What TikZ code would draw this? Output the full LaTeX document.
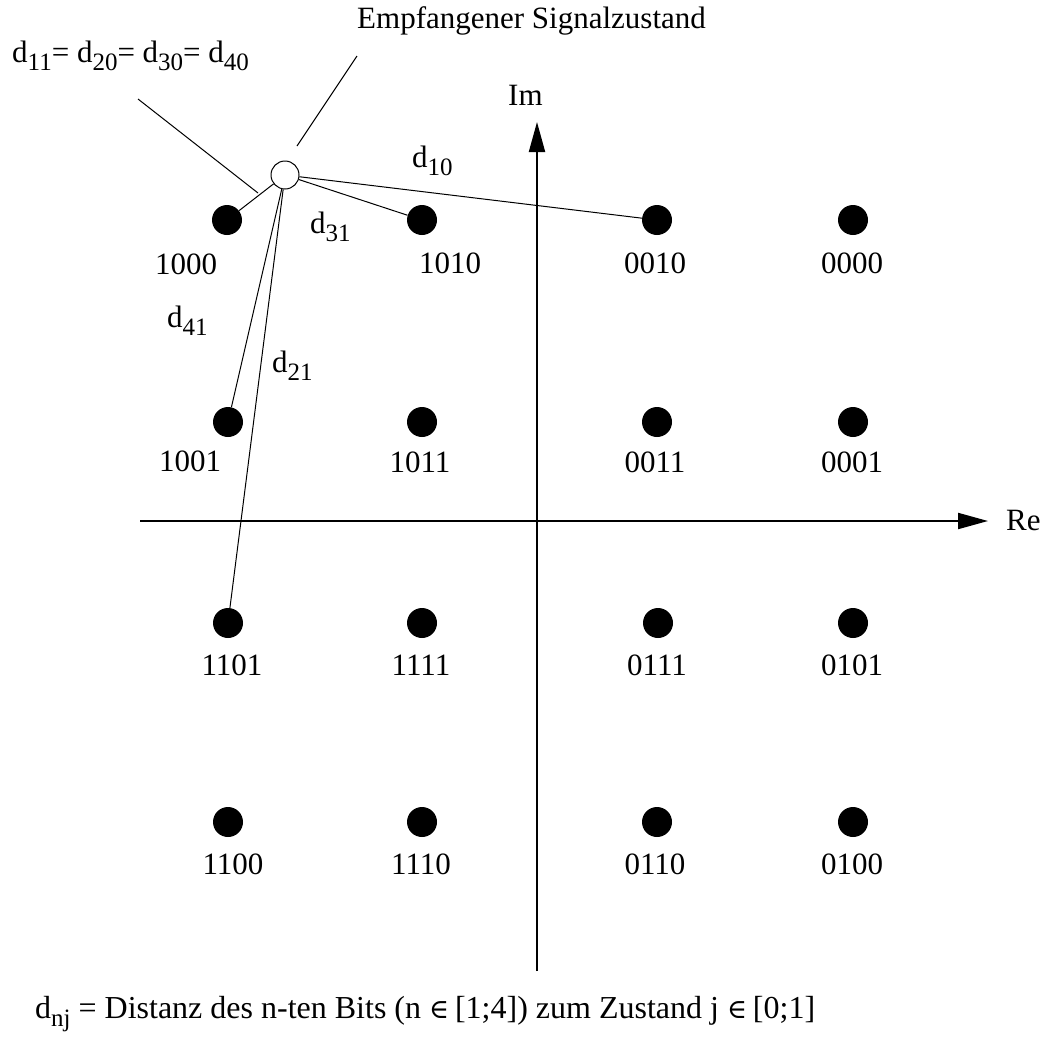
\documentclass[tikz,border=0pt]{standalone}
\usepackage{fontspec}
\setmainfont{Liberation Serif}
\newfontfamily\symfont{DejaVu Serif}
\usetikzlibrary{arrows.meta}
\newcommand{\lsub}[1]{\raisebox{-8pt}{\fontsize{25}{25}\selectfont #1}}
\newcommand{\elem}{{\symfont\fontsize{27}{28}\selectfont ∈}\hspace{6pt}}
\begin{document}
\begin{tikzpicture}[x=1pt,y=-1pt,
  every node/.style={inner sep=0pt,font=\fontsize{31}{34}\selectfont},
  pt/.style={circle,fill=black,minimum size=30pt},
  lbl/.style={anchor=base},
  txt/.style={anchor=base west},
  axis/.style={line width=2pt,-{Triangle[length=30pt,width=16pt]}},
  thin/.style={line width=1pt}]
\useasboundingbox (0,0) rectangle (1050,1037);
% axes
\coordinate (xs) at (140,521);
\coordinate (xe) at (988,521);
\coordinate (ys) at (537,971);
\coordinate (ye) at (537,122);
\draw[axis] (xs) -- (xe);
\draw[axis] (ys) -- (ye);
\node[txt] (re) at (1006,530) {Re};
\node[txt] (im) at (508,105) {Im};
% constellation points
\node[pt] (p1000) at (227,220) {};
\node[pt] (p1010) at (422,220) {};
\node[pt] (p0010) at (657,220) {};
\node[pt] (p0000) at (853,220) {};
\node[pt] (p1001) at (228,422) {};
\node[pt] (p1011) at (422,422) {};
\node[pt] (p0011) at (657,422) {};
\node[pt] (p0001) at (853,422) {};
\node[pt] (p1101) at (228,623) {};
\node[pt] (p1111) at (422,623) {};
\node[pt] (p0111) at (658,623) {};
\node[pt] (p0101) at (853,623) {};
\node[pt] (p1100) at (228,822) {};
\node[pt] (p1110) at (422,822) {};
\node[pt] (p0110) at (657,822) {};
\node[pt] (p0100) at (853,822) {};
% labels
\node[lbl] (l1000) at (186,274) {1000};
\node[lbl] (l1010) at (450,273) {1010};
\node[lbl] (l0010) at (655,273) {0010};
\node[lbl] (l0000) at (852,273) {0000};
\node[lbl] (l1001) at (190,471) {1001};
\node[lbl] (l1011) at (420,472) {1011};
\node[lbl] (l0011) at (655,472) {0011};
\node[lbl] (l0001) at (852,472) {0001};
\node[lbl] (l1101) at (232,675) {1101};
\node[lbl] (l1111) at (421,675) {1111};
\node[lbl] (l0111) at (657,675) {0111};
\node[lbl] (l0101) at (852,675) {0101};
\node[lbl] (l1100) at (233,874) {1100};
\node[lbl] (l1110) at (421,874) {1110};
\node[lbl] (l0110) at (655,874) {0110};
\node[lbl] (l0100) at (852,874) {0100};
% received state
\node[circle,draw,fill=white,line width=1pt,minimum size=28pt] (r) at (285,175) {};
\draw[thin] (r) -- (p1000);
\draw[thin] (r) -- (p1010);
\draw[thin] (r) -- (p0010);
\draw[thin] (r) -- (p1001);
\draw[thin] (r) -- (p1101);
% callouts
\coordinate (ca1) at (297,146);
\coordinate (cb1) at (357,56);
\coordinate (ca2) at (258,193);
\coordinate (cb2) at (138,99);
\draw[thin] (ca1) -- (cb1);
\draw[thin] (ca2) -- (cb2);
\node[txt] (emp) at (357,28) {Empfangener Signalzustand};
\node[txt] (deq) at (12,62) {d\lsub{11}= d\lsub{20}= d\lsub{30}= d\lsub{40}};
% distance labels
\node[txt] (d10) at (412,167) {d\lsub{10}};
\node[txt] (d31) at (310,233) {d\lsub{31}};
\node[txt] (d41) at (167,327) {d\lsub{41}};
\node[txt] (d21) at (272,372) {d\lsub{21}};
% legend
\node[txt,font=\fontsize{32}{34}\selectfont] (leg) at (35,1018) {d\lsub{nj} = Distanz des n-ten Bits (n \elem[1;4]) zum Zustand j \elem[0;1]};
\end{tikzpicture}
\end{document}
